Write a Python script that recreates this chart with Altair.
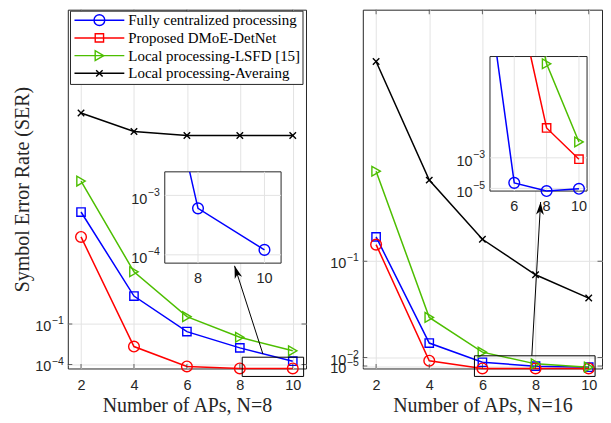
import json
import altair as alt
import pandas as pd

# ---------------- data ----------------
X = [2, 4, 6, 8, 10]
NAMES = ["Fully centralized processing", "Proposed DMoE-DetNet",
         "Local processing-LSFD [15]", "Local processing-Averaing"]
COLORS = ["#0000ff", "#ff0000", "#4dbe00", "#000000"]
XPATH = "M-1,-1L1,1M-1,1L1,-1"
PLOT_SHAPES = ["square", "circle", "triangle-right", XPATH]
LEGEND_SHAPES = ["circle", "square", "triangle-right", XPATH]
SHAPE_SIZES = {"circle": 115, "square": 70, "triangle-right": 95, XPATH: 42}

# Left panel (N=8): positions on the panel's linear axis
L_FULL = [0.3512, 0.1626, 0.0828, 0.0463, 0.0163]
L_PROP = [0.2953, 0.0492, 0.0045, 0.0, 0.0]
L_LSFD = [0.4206, 0.2170, 0.1163, 0.0700, 0.0396]
L_AVG = [0.5734, 0.5318, 0.5228, 0.5228, 0.5228]
L_YTICKS = [0.0089, 0.1]
L_YEXP = ["−4", "−1"]          # tick labels 10^-4, 10^-1
L_YDOM = [0, 0.8054]

# Right panel (N=16)
R_FULL = [0.1226, 0.0237, 0.0058, 0.0021, 0.0012]
R_PROP = [0.1154, 0.0072, 0.0, 0.0, 0.0]
R_LSFD = [0.1838, 0.0476, 0.0152, 0.0043, 0.0012]
R_AVG = [0.2860, 0.1755, 0.1204, 0.0873, 0.0656]
R_YTICKS = [0.0023, 0.0102, 0.1]
R_YEXP = ["−5", "−2", "−1"]    # tick labels 10^-5, 10^-2, 10^-1
R_YDOM = [0, 0.3343]

XDOM = [1.5, 10.5]

# zoom boxes and arrows (main-axis units)
L_BOX = dict(x=8.09, x2=10.41, y=-0.0179, y2=0.0253)
L_ARROW = dict(x=8.87, y=0.0329, x2=7.80, y2=0.2304, angle=342)
R_BOX = dict(x=5.70, x2=10.24, y=-0.0074, y2=0.0118)
R_ARROW = dict(x=7.86, y=0.0118, x2=8.19, y2=0.1551, angle=3)

# insets (inset units: 0 = bottom, 1 = top of inset frame)
L_IN_XDOM = [7, 10.5]
L_IN_XTICKS = [8, 10]
L_IN_YTICKS = [0.091, 0.742]
L_IN_YEXP = ["−4", "−3"]
L_IN_SERIES = [  # name index, x list, y list, marker shape
    (0, [7.75, 8, 10], [1.0, 0.600, 0.145], "circle"),
]
R_IN_XDOM = [4.5, 10.5]
R_IN_XTICKS = [6, 8, 10]
R_IN_YTICKS = [0.02, 0.247]
R_IN_YEXP = ["−5", "−3"]
R_IN_SERIES = [
    (0, [4.93, 6, 8, 10], [1.0, 0.061, 0.0, 0.017], "circle"),
    (1, [7.02, 8, 10], [1.0, 0.469, 0.237], "square"),
    (2, [7.9, 8, 10], [1.0, 0.946, 0.365], "triangle-right"),
]

# ---------------- styling ----------------
AX = "#262626"
GRID = "#e3e3e3"
SANS = "Liberation Sans, Arial, Helvetica, sans-serif"
SERIF = "Liberation Serif, Times New Roman, Times, serif"
H = 360


def pow_labels(df, xenc, yenc, dx, dy_ten, dy_exp, fs=14.5, fe=10.5):
    ten = alt.Chart(df).mark_text(text="10", font=SANS, fontSize=fs, color=AX,
                                  align="right", baseline="middle", dx=dx, dy=dy_ten).encode(
        x=xenc, y=yenc)
    exp = alt.Chart(df).mark_text(font=SANS, fontSize=fe, color=AX, align="left",
                                  baseline="middle", dx=dx + 0.5, dy=dy_exp).encode(
        x=xenc, y=yenc, text="e:N")
    return [ten, exp]


def panel(vals, ydom, yticks, yexp, xtitle, width, box, arrow,
          in_xdom, in_xrange, in_yrange, in_xticks, in_yticks, in_yexp,
          in_series, ytitle=None, legend=False):
    xs = alt.Scale(domain=XDOM, nice=False, zero=False)
    ys = alt.Scale(domain=ydom, nice=False, zero=False)
    xaxis = alt.Axis(values=X, grid=True, gridColor=GRID, ticks=False, domain=False,
                     labelFont=SANS, labelFontSize=14.5, labelColor=AX, labelPadding=10,
                     labelFlush=False, labelOverlap=False,
                     title=xtitle, titleFont=SERIF, titleFontSize=20,
                     titleFontWeight="normal", titleColor=AX, titlePadding=4)
    yaxis = alt.Axis(values=yticks, labels=False,
                     grid=True, gridColor=GRID, ticks=False, domain=False,
                     title=ytitle if ytitle else None, titleFont=SERIF, titleFontSize=20,
                     titleFontWeight="normal", titleColor=AX, titlePadding=35)

    rows = []
    for i, ys_ in enumerate(vals):
        for x, y in zip(X, ys_):
            rows.append(dict(x=x, y=y, series=NAMES[i], color=COLORS[i],
                             shape=PLOT_SHAPES[i], size=SHAPE_SIZES[PLOT_SHAPES[i]]))
    df = pd.DataFrame(rows)
    base = alt.Chart(df)
    enc = dict(x=alt.X("x:Q", scale=xs, axis=xaxis), y=alt.Y("y:Q", scale=ys, axis=yaxis))
    lines = base.mark_line(strokeWidth=1.5).encode(
        **enc, color=alt.Color("color:N", scale=None), detail="series:N")
    points = base.mark_point(filled=False, strokeWidth=1.4, opacity=1).encode(
        **enc, color=alt.Color("color:N", scale=None),
        shape=alt.Shape("shape:N", scale=None), size=alt.Size("size:Q", scale=None))

    # inward ticks of the box
    xt = pd.DataFrame({"x": X})
    yt = pd.DataFrame({"y": yticks, "e": yexp})
    tk = dict(clip=True, size=9, thickness=1, color=AX)
    ticks_top = alt.Chart(xt).mark_tick(orient="vertical", **tk).encode(
        x=alt.X("x:Q", scale=xs, axis=xaxis), y=alt.value(0))
    ticks_bot = alt.Chart(xt).mark_tick(orient="vertical", **tk).encode(
        x=alt.X("x:Q", scale=xs, axis=xaxis), y=alt.value(H))
    ticks_l = alt.Chart(yt).mark_tick(orient="horizontal", **tk).encode(
        y=alt.Y("y:Q", scale=ys, axis=yaxis), x=alt.value(0))
    ticks_r = alt.Chart(yt).mark_tick(orient="horizontal", **tk).encode(
        y=alt.Y("y:Q", scale=ys, axis=yaxis), x=alt.value(width))
    ylabs = pow_labels(yt, alt.value(0), alt.Y("y:Q", scale=ys, axis=yaxis),
                       dx=-16.5, dy_ten=3, dy_exp=-3)

    bdf = pd.DataFrame([box])
    zoombox = alt.Chart(bdf).mark_rect(fillOpacity=0, stroke="black", strokeWidth=1).encode(
        x=alt.X("x:Q", scale=xs, axis=xaxis), x2="x2:Q",
        y=alt.Y("y:Q", scale=ys, axis=yaxis), y2="y2:Q")
    adf = pd.DataFrame([arrow])
    arrow_line = alt.Chart(adf).mark_rule(color="black", strokeWidth=1).encode(
        x=alt.X("x:Q", scale=xs, axis=xaxis), x2="x2:Q",
        y=alt.Y("y:Q", scale=ys, axis=yaxis), y2="y2:Q")
    arrow_head = alt.Chart(adf).mark_point(
        shape="M0,0L0.55,1.8L0,1.3L-0.55,1.8Z", filled=True, fill="black",
        strokeWidth=0, opacity=1, size=200).encode(
        x=alt.X("x2:Q", scale=xs, axis=xaxis), y=alt.Y("y2:Q", scale=ys, axis=yaxis),
        angle=alt.Angle("angle:Q", scale=None))

    main = alt.layer(lines, points, ticks_top, ticks_bot, ticks_l, ticks_r,
                     zoombox, arrow_line, arrow_head, *ylabs)

    # ---------- inset ----------
    ixs = alt.Scale(domain=in_xdom, range=in_xrange, nice=False, zero=False)
    iys = alt.Scale(domain=[0, 1], range=in_yrange, nice=False, zero=False)
    ienc = lambda xf, yf: dict(x=alt.X(xf, scale=ixs, axis=None), y=alt.Y(yf, scale=iys, axis=None))
    frame = alt.Chart(pd.DataFrame([dict(x=in_xdom[0], x2=in_xdom[1], y=0, y2=1)])).mark_rect(
        fill="white", stroke=AX, strokeWidth=1).encode(**ienc("x:Q", "y:Q"), x2="x2:Q", y2="y2:Q")
    vg = alt.Chart(pd.DataFrame({"x": in_xticks, "y": 0, "y2": 1})).mark_rule(
        color=GRID, strokeWidth=1).encode(**ienc("x:Q", "y:Q"), y2="y2:Q")
    hg = alt.Chart(pd.DataFrame({"y": in_yticks, "x": in_xdom[0], "x2": in_xdom[1]})).mark_rule(
        color=GRID, strokeWidth=1).encode(**ienc("x:Q", "y:Q"), x2="x2:Q")
    irows = []
    for idx, xl, yl, shp in in_series:
        for x, y in zip(xl, yl):
            irows.append(dict(x=x, y=y, series=NAMES[idx], color=COLORS[idx],
                              shape=shp, size=SHAPE_SIZES[shp], marker=x in X))
    idf = pd.DataFrame(irows)
    ilines = alt.Chart(idf).mark_line(strokeWidth=1.5).encode(
        **ienc("x:Q", "y:Q"), color=alt.Color("color:N", scale=None), detail="series:N")
    ipoints = alt.Chart(idf).transform_filter("datum.marker").mark_point(
        filled=False, strokeWidth=1.4, opacity=1).encode(
        **ienc("x:Q", "y:Q"), color=alt.Color("color:N", scale=None),
        shape=alt.Shape("shape:N", scale=None), size=alt.Size("size:Q", scale=None))
    ixl = alt.Chart(pd.DataFrame({"x": in_xticks, "y": 0, "t": [str(v) for v in in_xticks]})).mark_text(
        font=SANS, fontSize=14.5, color=AX, baseline="middle", dy=16).encode(
        **ienc("x:Q", "y:Q"), text="t:N")
    iyt = pd.DataFrame({"y": in_yticks, "x": in_xdom[0], "e": in_yexp})
    iyl = pow_labels(iyt, alt.X("x:Q", scale=ixs, axis=None), alt.Y("y:Q", scale=iys, axis=None),
                     dx=-17.5, dy_ten=4.5, dy_exp=-2.5)
    inset = alt.layer(frame, vg, hg, ilines, ipoints, ixl, *iyl)

    layers = [main, inset]

    if legend:
        ldf = pd.DataFrame({"row": [0, 1, 2, 3], "name": NAMES, "color": COLORS,
                            "shape": LEGEND_SHAPES,
                            "size": [SHAPE_SIZES[s] for s in LEGEND_SHAPES]})
        lys = alt.Scale(domain=[0, 3], range=[10.5, 63.9])
        ly = alt.Y("row:Q", scale=lys, axis=None)
        lbox = alt.Chart(pd.DataFrame({"a": [0]})).mark_rect(
            fill="white", stroke=AX, strokeWidth=1).encode(
            x=alt.value(2.7), x2=alt.value(236), y=alt.value(1.5), y2=alt.value(75))
        lline = alt.Chart(ldf).mark_rule(strokeWidth=1.5).encode(
            x=alt.value(6.7), x2=alt.value(56.7), y=ly, color=alt.Color("color:N", scale=None))
        lpt = alt.Chart(ldf).mark_point(filled=False, strokeWidth=1.4, opacity=1).encode(
            x=alt.value(31.7), y=ly, color=alt.Color("color:N", scale=None),
            shape=alt.Shape("shape:N", scale=None), size=alt.Size("size:Q", scale=None))
        ltxt = alt.Chart(ldf).mark_text(font=SERIF, fontSize=15, color="black",
                                        align="left", baseline="middle").encode(
            x=alt.value(60.7), y=ly, text="name:N")
        layers.append(alt.layer(lbox, lline, lpt, ltxt))

    return alt.layer(*layers).resolve_scale(x="independent", y="independent").properties(
        width=width, height=H)


left = panel([L_FULL, L_PROP, L_LSFD, L_AVG], L_YDOM, L_YTICKS, L_YEXP,
             "Number of APs, N=8", 239, L_BOX, L_ARROW,
             L_IN_XDOM, [97.3, 214], [254.3, 162.7], L_IN_XTICKS, L_IN_YTICKS, L_IN_YEXP,
             L_IN_SERIES, ytitle="Symbol Error Rate (SER)", legend=True)
right = panel([R_FULL, R_PROP, R_LSFD, R_AVG], R_YDOM, R_YTICKS, R_YEXP,
              "Number of APs, N=16", 240, R_BOX, R_ARROW,
              R_IN_XDOM, [127.6, 225], [182, 47], R_IN_XTICKS, R_IN_YTICKS, R_IN_YEXP,
              R_IN_SERIES)

chart = alt.hconcat(left, right, spacing=57, bounds="flush").properties(
    padding={"left": 4, "top": 0, "right": 0, "bottom": 0},
    background="white",
).configure_view(stroke=AX, strokeWidth=1)

chart.save("out.html", embed_options={"renderer": "svg", "actions": False})
